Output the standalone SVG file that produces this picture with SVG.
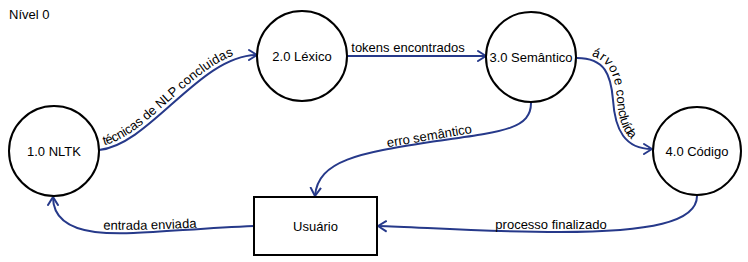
<svg xmlns="http://www.w3.org/2000/svg" width="748" height="262" viewBox="0 0 748 262">
  <style>
    text { font-family: "Liberation Sans", Arial, sans-serif; font-size: 13px; fill: #000; }
    .node-c { fill: #fff; stroke: #000; stroke-width: 2; }
    .flow { fill: none; stroke: #26398a; stroke-width: 2; marker-end: url(#arrow); }
    .lbl { text-anchor: middle; }
  </style>
  <defs>
    <marker id="arrow" markerUnits="userSpaceOnUse" markerWidth="12" markerHeight="14" refX="9" refY="6" orient="auto" viewBox="0 0 12 12">
      <path d="M1,1 L9,6 L1,11" fill="none" stroke="#26398a" stroke-width="2" stroke-linecap="round" stroke-linejoin="round"/>
    </marker>
    <!-- guide paths for the curved labels, drawn left to right -->
    <path id="p-nlp" d="M 99 150 C 150 145, 200 55, 257 55"/>
    <path id="p-arvore" d="M 577 58 C 605 58, 611 75, 613 100 C 615 130, 625 149, 651 149"/>
    <path id="p-erro" d="M 370 152 C 395 148, 415 145, 430 142 C 455 138, 475 135, 490 131"/>
    <path id="p-entrada" d="M 90 231 C 120 233, 170 231, 210 229"/>
  </defs>

  <text x="9" y="19">Nível 0</text>

  <g id="connectors">
    <path class="flow" d="M 99 150 C 150 145, 200 55, 257 55"/>
    <path class="flow" d="M 347 56 L 486 56"/>
    <path class="flow" d="M 577 58 C 605 58, 611 75, 613 100 C 615 130, 625 149, 652 149"/>
    <path class="flow" d="M 531 103 C 531 130, 500 132, 430 142 C 360 153, 318 160, 315 196"/>
    <path class="flow" d="M 254 226 C 180 229, 130 236, 95 232 C 65 228, 53 215, 53 197"/>
    <path class="flow" d="M 697 196 C 697 222, 650 232, 560 232 C 480 232, 420 227, 378 226"/>

    <text dy="-4"><textPath href="#p-nlp" startOffset="6">técnicas de NLP concluidas</textPath></text>
    <text class="lbl" x="408" y="52">tokens encontrados</text>
    <text dy="-4"><textPath href="#p-arvore" startOffset="13">árvore concluída</textPath></text>
    <text class="lbl" dy="-2"><textPath href="#p-erro" startOffset="50%">erro semântico</textPath></text>
    <text class="lbl" dy="-2"><textPath href="#p-entrada" startOffset="50%">entrada enviada</textPath></text>
    <text class="lbl" x="551" y="229">processo finalizado</text>
  </g>

  <g id="n1">
    <circle class="node-c" cx="54" cy="151" r="45"/>
    <text class="lbl" x="54" y="156">1.0 NLTK</text>
  </g>
  <g id="n2">
    <circle class="node-c" cx="302" cy="56" r="45"/>
    <text class="lbl" x="302" y="61">2.0 Léxico</text>
  </g>
  <g id="n3">
    <circle class="node-c" cx="531" cy="57" r="45"/>
    <text class="lbl" x="531" y="62">3.0 Semântico</text>
  </g>
  <g id="n4">
    <circle class="node-c" cx="697" cy="151" r="44"/>
    <text class="lbl" x="697" y="156">4.0 Código</text>
  </g>
  <g id="usuario">
    <rect x="254" y="197" width="123" height="58" fill="#fff" stroke="#000" stroke-width="2"/>
    <text class="lbl" x="315.5" y="231">Usuário</text>
  </g>
</svg>
